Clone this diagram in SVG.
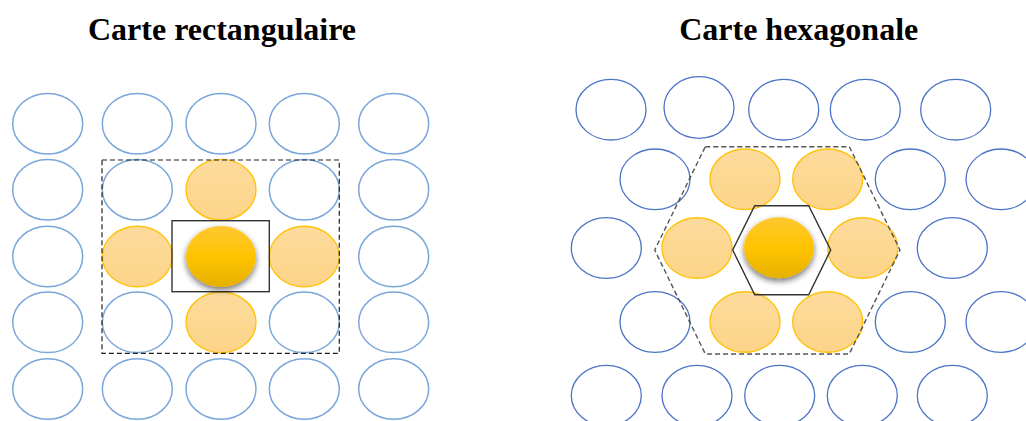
<svg xmlns="http://www.w3.org/2000/svg" width="1026" height="421" viewBox="0 0 1026 421">
<style>
.title{font-family:"Liberation Serif","Times New Roman",serif;font-weight:bold;font-size:32px;fill:#000;text-anchor:middle}
.bl{fill:#fff;stroke:#7AA7DA;stroke-width:1.5}
.br{fill:#fff;stroke:#4A74C6;stroke-width:1.3}
.or{fill:url(#og);stroke:#FFC000;stroke-width:1.4;opacity:0.95}
.ctr{fill:url(#cg);filter:url(#sh)}
.dash{fill:none;stroke:#222;stroke-width:1.2;stroke-dasharray:5,3}
.hdash{fill:none;stroke:#555;stroke-width:1.4;stroke-dasharray:5,3}
.sol{fill:none;stroke:#333;stroke-width:1.4}
</style>
<defs>
<linearGradient id="og" x1="0" y1="0" x2="0" y2="1">
<stop offset="0" stop-color="#FDDA98"/>
<stop offset="1" stop-color="#FDD282"/>
</linearGradient>
<linearGradient id="cg" x1="0" y1="0" x2="0" y2="1">
<stop offset="0" stop-color="#FFC832"/>
<stop offset="0.5" stop-color="#FFC400"/>
<stop offset="1" stop-color="#E6B000"/>
</linearGradient>
<filter id="sh" x="-30%" y="-30%" width="160%" height="170%">
<feGaussianBlur in="SourceAlpha" stdDeviation="3"/>
<feOffset dx="0" dy="3" result="b"/>
<feComponentTransfer><feFuncA type="linear" slope="0.55"/></feComponentTransfer>
<feMerge><feMergeNode/><feMergeNode in="SourceGraphic"/></feMerge>
</filter>
</defs>
<text class="title" x="222" y="39.5">Carte rectangulaire</text>
<text class="title" x="798.7" y="39.5">Carte hexagonale</text>
<g id="rect-map">
<g id="rect-grid">
<ellipse class="bl" cx="47.7" cy="123.7" rx="35" ry="30.3"/>
<ellipse class="bl" cx="137.3" cy="123.7" rx="35" ry="30.3"/>
<ellipse class="bl" cx="221" cy="123.7" rx="35" ry="30.3"/>
<ellipse class="bl" cx="304.3" cy="123.7" rx="35" ry="30.3"/>
<ellipse class="bl" cx="393.7" cy="123.7" rx="35" ry="30.3"/>
<ellipse class="bl" cx="47.7" cy="189.7" rx="35" ry="30.3"/>
<ellipse class="bl" cx="137.3" cy="189.7" rx="35" ry="30.3"/>
<ellipse class="or" cx="221" cy="189.7" rx="35" ry="30.3"/>
<ellipse class="bl" cx="304.3" cy="189.7" rx="35" ry="30.3"/>
<ellipse class="bl" cx="393.7" cy="189.7" rx="35" ry="30.3"/>
<ellipse class="bl" cx="47.7" cy="256.5" rx="35" ry="30.3"/>
<ellipse class="or" cx="137.3" cy="256.5" rx="35" ry="30.3"/>
<ellipse class="or" cx="304.3" cy="256.5" rx="35" ry="30.3"/>
<ellipse class="bl" cx="393.7" cy="256.5" rx="35" ry="30.3"/>
<ellipse class="bl" cx="47.7" cy="322.3" rx="35" ry="30.3"/>
<ellipse class="bl" cx="137.3" cy="322.3" rx="35" ry="30.3"/>
<ellipse class="or" cx="221" cy="322.3" rx="35" ry="30.3"/>
<ellipse class="bl" cx="304.3" cy="322.3" rx="35" ry="30.3"/>
<ellipse class="bl" cx="393.7" cy="322.3" rx="35" ry="30.3"/>
<ellipse class="bl" cx="47.7" cy="389" rx="35" ry="30.3"/>
<ellipse class="bl" cx="137.3" cy="389" rx="35" ry="30.3"/>
<ellipse class="bl" cx="221" cy="389" rx="35" ry="30.3"/>
<ellipse class="bl" cx="304.3" cy="389" rx="35" ry="30.3"/>
<ellipse class="bl" cx="393.7" cy="389" rx="35" ry="30.3"/>
</g>
<rect id="rect-neigh" class="dash" x="102" y="160" width="237.3" height="193.3"/>
<rect id="rect-center-box" class="sol" x="172" y="220.7" width="97.3" height="71"/>
<ellipse id="rect-center" class="ctr" cx="221" cy="256.5" rx="35" ry="30.5"/>
</g>
<g id="hex-map">
<g id="hex-grid">
<ellipse class="br" cx="611" cy="109.7" rx="35" ry="30.3"/>
<ellipse class="br" cx="699" cy="107.5" rx="35" ry="30.8"/>
<ellipse class="br" cx="783.7" cy="109.7" rx="35" ry="30.3"/>
<ellipse class="br" cx="865.3" cy="109.7" rx="35" ry="30.3"/>
<ellipse class="br" cx="955.7" cy="109.7" rx="35" ry="30.3"/>
<ellipse class="br" cx="655" cy="179.3" rx="35" ry="30.3"/>
<ellipse class="or" cx="745" cy="179.3" rx="35" ry="30.3"/>
<ellipse class="or" cx="827.7" cy="179.3" rx="35" ry="30.3"/>
<ellipse class="br" cx="910.3" cy="179.3" rx="35" ry="30.3"/>
<ellipse class="br" cx="1001" cy="179.3" rx="35" ry="30.3"/>
<ellipse class="br" cx="606.3" cy="248" rx="35" ry="30.3"/>
<ellipse class="or" cx="697" cy="248" rx="35" ry="30.3"/>
<ellipse class="or" cx="862.7" cy="248" rx="35" ry="30.3"/>
<ellipse class="br" cx="952.3" cy="248" rx="35" ry="30.3"/>
<ellipse class="br" cx="655" cy="322" rx="35" ry="30.3"/>
<ellipse class="or" cx="745" cy="322" rx="35" ry="30.3"/>
<ellipse class="or" cx="827.7" cy="322" rx="35" ry="30.3"/>
<ellipse class="br" cx="910.3" cy="322" rx="35" ry="30.3"/>
<ellipse class="br" cx="1001" cy="322" rx="35" ry="30.3"/>
<ellipse class="br" cx="606.3" cy="395.6" rx="35" ry="30.3"/>
<ellipse class="br" cx="697" cy="395.6" rx="35" ry="30.3"/>
<ellipse class="br" cx="779.7" cy="395.6" rx="35" ry="30.3"/>
<ellipse class="br" cx="862.3" cy="395.6" rx="35" ry="30.3"/>
<ellipse class="br" cx="952.3" cy="395.6" rx="35" ry="30.3"/>
</g>
<polygon id="hex-neigh" class="hdash" points="705.3,146.7 849.3,146.7 900,250 849.3,354 705.3,354 654.7,250"/>
<polygon id="hex-center-box" class="sol" points="754.7,205.7 808.7,205.7 830.7,250 808.7,294.7 754.7,294.7 732.7,250"/>
<ellipse id="hex-center" class="ctr" cx="779" cy="247.7" rx="35" ry="30.5"/>
</g>
</svg>
